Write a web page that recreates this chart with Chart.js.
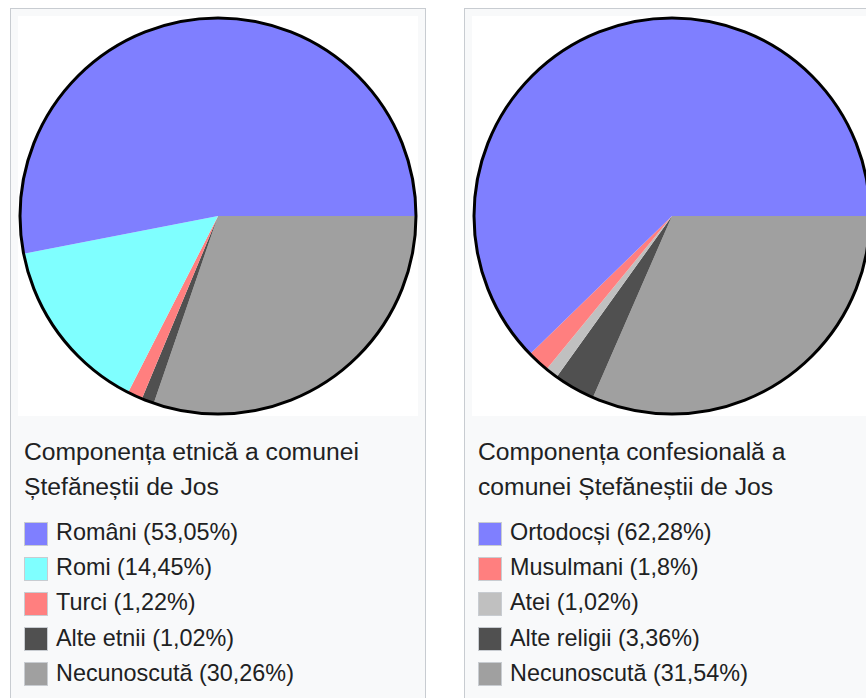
<!DOCTYPE html>
<html lang="ro">
<head>
<meta charset="utf-8">
<script src="https://cdn.jsdelivr.net/npm/chart.js@4"></script>
<style>
  html, body { margin: 0; padding: 0; background: #fff; overflow: hidden; }
  body { width: 866px; height: 698px; position: relative; font-family: "Liberation Sans", Arial, sans-serif; color: #202122; }
  .panel { position: absolute; top: 8px; width: 414px; height: 720px; border: 1px solid #c8ccd1; background: #f8f9fa; }
  .plot { position: absolute; top: 16px; width: 400px; height: 400px; background: #fff; }
  .caption { position: absolute; top: 434px; font-size: 24.7px; line-height: 35px; white-space: nowrap; }
  .legend { position: absolute; top: 515px; font-size: 23.4px; line-height: 35.2px; white-space: nowrap; }
  .legend .item { position: relative; padding-left: 32px; height: 35.2px; }
  .legend .box { position: absolute; left: 0; top: 6.5px; width: 22px; height: 22px; border: 1px solid #c8ccd1; }
</style>
</head>
<body>
<div class="panel" style="left:10px"></div>
<div class="panel" style="left:464px"></div>
<div class="plot" style="left:18px"><canvas id="ethnicChart" width="400" height="400"></canvas></div>
<div class="plot" style="left:472px"><canvas id="religionChart" width="400" height="400"></canvas></div>
<div class="caption" style="left:24px">Componența etnică a comunei<br>Ștefăneștii de Jos</div>
<div class="caption" style="left:478px">Componența confesională a<br>comunei Ștefăneștii de Jos</div>
<div class="legend" id="ethnicLegend" style="left:24px"></div>
<div class="legend" id="religionLegend" style="left:478px"></div>

<script>
// Ethnic composition (percent)
const ethnicLabels = ['Români', 'Romi', 'Turci', 'Alte etnii', 'Necunoscută'];
const ethnicValues = [53.05, 14.45, 1.22, 1.02, 30.26];
const ethnicColors = ['#7f7fff', '#7fffff', '#ff7f7f', '#505050', '#a0a0a0'];

// Religious composition (percent)
const religionLabels = ['Ortodocși', 'Musulmani', 'Atei', 'Alte religii', 'Necunoscută'];
const religionValues = [62.28, 1.8, 1.02, 3.36, 31.54];
const religionColors = ['#7f7fff', '#ff7f7f', '#c0c0c0', '#505050', '#a0a0a0'];

// black outline around the whole pie
const outlinePlugin = {
  id: 'outline',
  afterDatasetsDraw: function(chart) {
    const arc = chart.getDatasetMeta(0).data[0];
    if (!arc) return;
    const ctx = chart.ctx;
    ctx.save();
    ctx.beginPath();
    ctx.arc(arc.x, arc.y, arc.outerRadius, 0, Math.PI * 2);
    ctx.lineWidth = 3;
    ctx.strokeStyle = '#000';
    ctx.stroke();
    ctx.restore();
  }
};

function makePie(id, labels, values, colors) {
  // the original runs counter-clockwise from 3 o'clock, so feed the slices reversed
  return new Chart(document.getElementById(id), {
    type: 'pie',
    data: {
      labels: labels.slice().reverse(),
      datasets: [{
        data: values.slice().reverse(),
        backgroundColor: colors.slice().reverse(),
        borderWidth: 0
      }]
    },
    options: {
      responsive: false,
      animation: false,
      rotation: 90,
      layout: { padding: 2 },
      plugins: {
        legend: { display: false },
        tooltip: { enabled: false }
      }
    },
    plugins: [outlinePlugin]
  });
}

function makeLegend(id, labels, values, colors) {
  const el = document.getElementById(id);
  labels.forEach(function(label, i) {
    const item = document.createElement('div');
    item.className = 'item';
    const box = document.createElement('span');
    box.className = 'box';
    box.style.background = colors[i];
    item.appendChild(box);
    item.appendChild(document.createTextNode(label + ' (' + String(values[i]).replace('.', ',') + '%)'));
    el.appendChild(item);
  });
}

makePie('ethnicChart', ethnicLabels, ethnicValues, ethnicColors);
makePie('religionChart', religionLabels, religionValues, religionColors);
makeLegend('ethnicLegend', ethnicLabels, ethnicValues, ethnicColors);
makeLegend('religionLegend', religionLabels, religionValues, religionColors);
</script>
</body>
</html>
